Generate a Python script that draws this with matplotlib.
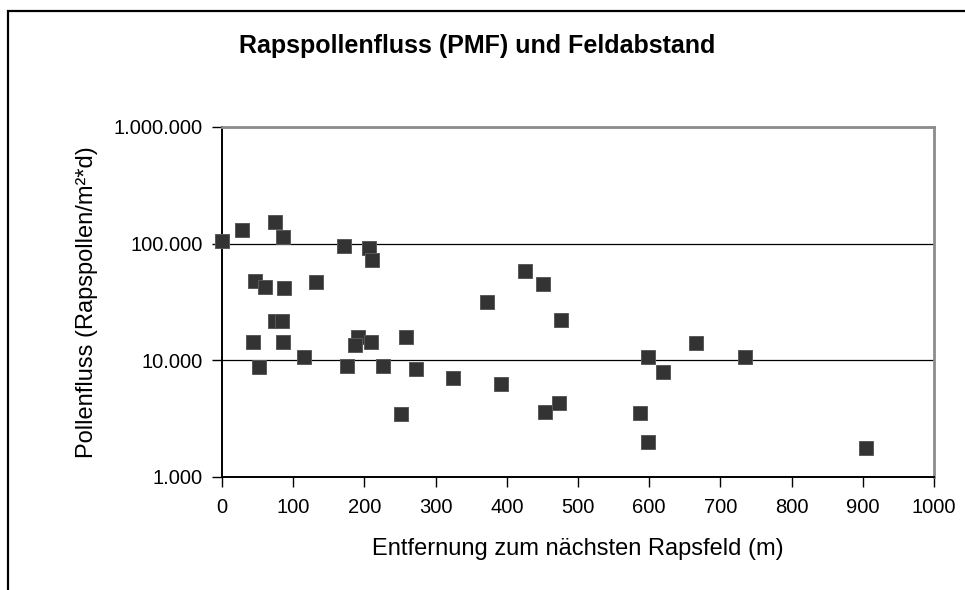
import matplotlib
matplotlib.use("Agg")
import matplotlib.pyplot as plt
from matplotlib.patches import Rectangle
from matplotlib.ticker import FixedLocator, FuncFormatter, NullLocator

plt.rcParams['font.family'] = ['Liberation Sans', 'DejaVu Sans']

# Entfernung zum naechsten Rapsfeld (m)
entfernung = [0, 28, 74, 85, 172, 206, 211, 46, 61, 87, 132,
              75, 84, 44, 85, 52, 115, 175, 191, 187, 209, 226,
              259, 272, 324, 251, 426, 451, 372, 476, 666, 599,
              620, 735, 392, 474, 453, 587, 598, 904]
# Pollenfluss (Rapspollen/m2*d)
pollenfluss = [106000, 132000, 154000, 114000, 95500, 92000, 72000, 48300, 42900, 41900, 46900,
               21600, 21600, 14300, 14300, 8830, 10700, 8930, 15700, 13460, 14300, 8930,
               15860, 8420, 7040, 3500, 58700, 44700, 31600, 22000, 14060, 10700,
               7940, 10600, 6220, 4340, 3590, 3540, 2010, 1760]

x_ticks = list(range(0, 1001, 100))
y_ticks = [1000, 10000, 100000, 1000000]


def dotted(v, pos):
    return f"{int(v):,}".replace(",", ".")


fig = plt.figure(figsize=(9.65, 5.9), dpi=100)
ax = fig.add_axes([222 / 965, 1 - 477 / 590, (934 - 222) / 965, (477 - 127) / 590])

ax.set_yscale('log')
ax.set_xlim(0, 1000)
ax.set_ylim(1000, 1000000)
ax.yaxis.set_major_locator(FixedLocator(y_ticks))
ax.yaxis.set_minor_locator(NullLocator())
ax.yaxis.set_major_formatter(FuncFormatter(dotted))
ax.set_xticks(x_ticks)

ax.grid(axis='y', color='black', linewidth=0.9)
ax.set_axisbelow(True)

ax.plot(entfernung, pollenfluss, linestyle='none', marker='s', markersize=10.2,
        markerfacecolor='#333333', markeredgecolor='#5a5a5a', markeredgewidth=0.7,
        clip_on=False, zorder=3)

for side in ['left', 'bottom']:
    ax.spines[side].set_color('black')
    ax.spines[side].set_linewidth(1.4)
for side in ['top', 'right']:
    ax.spines[side].set_color('#8c8c8c')
    ax.spines[side].set_linewidth(2)

ax.tick_params(axis='both', direction='out', length=7, width=1, color='black',
               labelsize=14.5, pad=7)
ax.tick_params(axis='x', pad=8)

ax.set_xlabel('Entfernung zum nächsten Rapsfeld (m)', fontsize=17, labelpad=15)
ax.set_ylabel('Pollenfluss (Rapspollen/m²*d)', fontsize=17, labelpad=11)

fig.text(0.495, 1 - 46 / 590, 'Rapspollenfluss (PMF) und Feldabstand',
         ha='center', va='center', fontsize=18, fontweight='bold')

fig.patches.append(Rectangle((8 / 965, -0.1), 2, 1.1 - 11 / 590, transform=fig.transFigure,
                             fill=False, edgecolor='black', linewidth=1.6))

fig.savefig('out.png', dpi=100)
